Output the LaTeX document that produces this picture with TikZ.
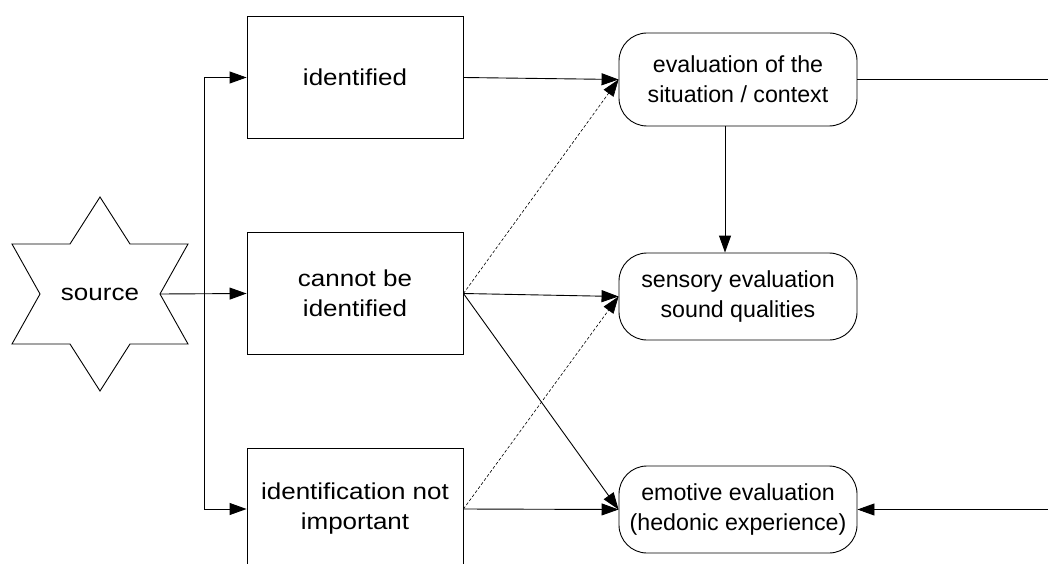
\documentclass[tikz,border=0pt]{standalone}
\usepackage{fontspec}
\setmainfont{Liberation Sans}
\newfontfamily\widefont[FakeStretch=1.13]{Liberation Sans}
\usetikzlibrary{arrows.meta}
\tikzset{
  lbl/.style={font=\widefont\fontsize{23}{30}\selectfont, align=center, inner sep=0pt},
  rlbl/.style={font=\fontsize{23.2}{30}\selectfont, align=center, inner sep=0pt},
  sqbox/.style={lbl, draw, line width=0.9pt, minimum width=216pt, minimum height=122pt},
  rbox/.style={rlbl, draw, line width=0.9pt, rounded corners=28pt, minimum width=238pt, minimum height=87pt},
  conn/.style={line width=0.9pt, -{Triangle[length=17pt,width=12pt]}},
  dconn/.style={line width=0.6pt, dash pattern=on 3pt off 2pt, -{Triangle[length=17pt,width=12pt]}},
  plain/.style={line width=0.9pt}
}
\begin{document}
\begin{tikzpicture}[x=1pt, y=-1pt]
\useasboundingbox (0,0) rectangle (1048,564);
\clip (0,0) rectangle (1048,564);
% star
\draw[plain, line join=miter] (100,197) -- (130,244) -- (188,244) -- (160,294) -- (188,344) -- (130,344)
  -- (100,391) -- (70,344) -- (12,344) -- (40,294) -- (12,244) -- (70,244) -- cycle;
\node[lbl, minimum width=120pt] (source) at (100,294) {source};
% boxes
\node[sqbox] (box1) at (355,77.5) {identified};
\node[sqbox] (box2) at (355,293.5) {cannot be\\identified};
\node[sqbox] (box3) at (355,509) {identification not\\important};
\node[rbox, minimum height=93pt] (eval) at (738,79.5) {evaluation of the\\situation / context};
\node[rbox] (sens) at (738,296.5) {sensory evaluation\\sound qualities};
\node[rbox] (emo) at (738,509.5) {emotive evaluation\\(hedonic experience)};
% source connectors
\coordinate (j) at (204,294);
\draw[conn] (source.east) -- (box2.west);
\draw[conn] (j) |- (box1.west);
\draw[conn] (j) |- (box3.west);
% to evaluations
\draw[conn] (box1.east) -- (eval.west);
\draw[dconn] (box2.east) -- (eval.west);
\draw[conn] (box2.east) -- (sens.west);
\draw[conn] (box2.east) -- (emo.west);
\draw[dconn] (box3.east) -- (sens.west);
\draw[conn] (box3.east) -- (emo.west);
\draw[conn] ([xshift=-13pt]eval.south) -- ([xshift=-13pt]sens.north);
\draw[conn] (eval.east) -- ++(230,0) |- (emo.east);
\end{tikzpicture}
\end{document}
